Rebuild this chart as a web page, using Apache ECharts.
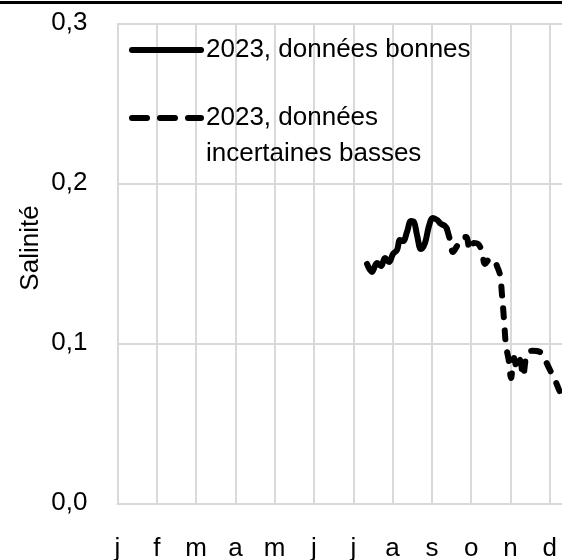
<!DOCTYPE html>
<html>
<head>
<meta charset="utf-8">
<script src="https://cdn.jsdelivr.net/npm/echarts@6/dist/echarts.min.js"></script>
<style>html,body{margin:0;padding:0;background:#fff}#c{width:562px;height:560px}</style>
</head>
<body>
<div id="c"></div>
<script>
// Month labels (x positions are month index: 0 = 1 January, 11 = 1 December)
const months = ['j','f','m','a','m','j','j','a','s','o','n','d'];
const yTicks = [0, 0.1, 0.2, 0.3];

// 2023, données bonnes (solid)
const goodX = [6.349, 6.476, 6.603, 6.705, 6.807, 6.908, 7.010, 7.112, 7.188, 7.265, 7.366, 7.468, 7.545, 7.621, 7.723, 7.824, 7.926, 8.028, 8.130, 8.232, 8.333, 8.384];
const goodY = [0.1496, 0.1446, 0.1502, 0.1483, 0.1533, 0.1508, 0.1558, 0.1583, 0.1646, 0.1639, 0.1696, 0.1764, 0.1758, 0.1677, 0.1589, 0.1627, 0.1733, 0.1783, 0.1771, 0.1746, 0.1733, 0.1714];

// 2023, données incertaines basses (dashed)
const lowX = [8.384, 8.461, 8.537, 8.639, 8.766, 8.868, 8.969, 9.071, 9.173, 9.275, 9.351, 9.478, 9.580, 9.656, 9.733, 9.784, 9.835, 9.885, 9.962, 10.013, 10.089, 10.165, 10.242, 10.318, 10.420, 10.547, 10.751, 10.878, 11.005, 11.132, 11.260, 11.412];
const lowY = [0.1714, 0.1646, 0.1571, 0.1608, 0.1658, 0.1664, 0.1583, 0.1627, 0.1621, 0.1571, 0.1496, 0.1527, 0.1521, 0.1483, 0.1427, 0.1302, 0.1146, 0.0989, 0.0883, 0.0783, 0.0908, 0.0846, 0.0896, 0.0796, 0.0933, 0.0953, 0.0946, 0.0896, 0.0833, 0.0771, 0.0696, 0.0633];

const nameGood = '2023, données bonnes';
const nameLow = '2023, données\nincertaines basses';

const FONT = "'Liberation Sans', Arial, sans-serif";
const FS = 26;
const GRID = '#d9d9d9';

const chart = echarts.init(document.getElementById('c'), null, {renderer: 'canvas'});
chart.setOption({
  animation: false,
  backgroundColor: '#ffffff',
  textStyle: {fontFamily: FONT},
  grid: {left: 117.5, top: 23.3, width: 471.6, height: 480, containLabel: false, outerBoundsMode: 'none'},
  xAxis: {
    type: 'value', min: 0, max: 12, interval: 1,
    axisLine: {show: true, lineStyle: {color: GRID, width: 2}},
    axisTick: {show: false},
    splitLine: {show: true, lineStyle: {color: GRID, width: 2}},
    axisLabel: {
      color: '#000', fontSize: FS, fontFamily: FONT, margin: 33,
      showMaxLabel: false, hideOverlap: false,
      formatter: v => (v >= 0 && v < months.length) ? months[v] : ''
    }
  },
  yAxis: {
    type: 'value', min: yTicks[0], max: yTicks[yTicks.length - 1], interval: 0.1,
    axisLine: {show: false},
    axisTick: {show: false},
    splitLine: {show: true, lineStyle: {color: GRID, width: 2}},
    axisLabel: {
      color: '#000', fontSize: FS, fontFamily: FONT, margin: 30,
      formatter: v => v.toFixed(1).replace('.', ',')
    }
  },
  legend: [
    {
      data: [nameGood], left: 129, top: 33, padding: 0, orient: 'vertical',
      itemWidth: 69, itemHeight: 14, itemStyle: {opacity: 0},
      lineStyle: {width: 6, color: '#000', cap: 'round'},
      textStyle: {color: '#000', fontSize: FS, fontFamily: FONT, lineHeight: 34}
    },
    {
      data: [nameLow], left: 129, top: 64, padding: 0, orient: 'vertical',
      itemWidth: 69, itemHeight: 14, itemStyle: {opacity: 0},
      lineStyle: {width: 6, color: '#000', cap: 'round', type: [15, 13]},
      formatter: n => ' \n' + n,
      textStyle: {color: '#000', fontSize: FS, fontFamily: FONT, lineHeight: 36}
    }
  ],
  graphic: [
    {type: 'rect', shape: {x: 0, y: 1, width: 562, height: 3}, style: {fill: '#000'}},
    {type: 'text', x: 31, y: 248, rotation: Math.PI / 2,
     style: {text: 'Salinité', fill: '#000', font: FS + 'px ' + FONT, align: 'center', verticalAlign: 'middle'}}
  ],
  series: [
    {
      name: nameGood, type: 'line', symbol: 'none', smooth: 0.4,
      data: goodX.map((x, i) => [x, goodY[i]]),
      lineStyle: {color: '#000', width: 6, cap: 'round', join: 'round'},
      itemStyle: {color: '#000'}
    },
    {
      name: nameLow, type: 'line', symbol: 'none', smooth: 0.4,
      data: lowX.map((x, i) => [x, lowY[i]]),
      lineStyle: {color: '#000', width: 6, type: [9, 13], cap: 'round', join: 'round'},
      itemStyle: {color: '#000'}
    }
  ]
});
</script>
</body>
</html>
